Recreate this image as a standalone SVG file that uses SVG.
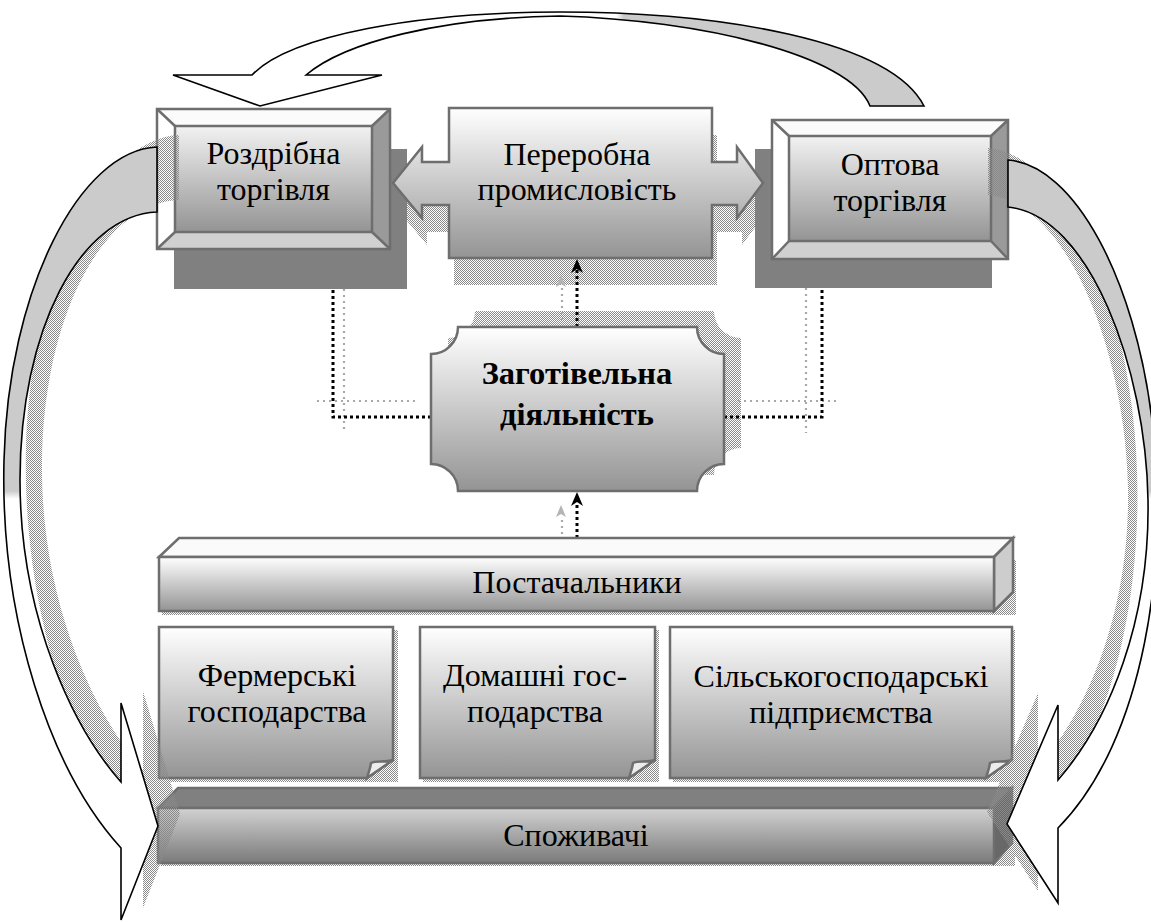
<svg xmlns="http://www.w3.org/2000/svg" width="1151" height="922" viewBox="0 0 1151 922">
  <defs>
    <style>
      text { font-family: "Liberation Serif", "DejaVu Serif", "Noto Serif", serif; }
      .lbl { font-size: 32px; fill: #000; text-anchor: middle; }
      .bold { font-weight: bold; font-size: 32.5px; }
      .edge { stroke: #6e6e6e; stroke-width: 2.5; stroke-linejoin: miter; }
      .band { stroke: #000; stroke-width: 1.6; stroke-linejoin: miter; }
      .hatch { fill: url(#hatch); stroke: none; }
      .solid-shadow { fill: #808080; }
      .dot { fill: none; stroke: #000; stroke-width: 3; stroke-dasharray: 3 3; }
      .dotg { fill: none; stroke: #a8a8a8; stroke-width: 2.2; stroke-dasharray: 2 4; }
    </style>
    <pattern id="hatch" width="2" height="2" patternUnits="userSpaceOnUse">
      <rect width="1" height="1" fill="#8a8a8a"/>
      <rect x="1" y="1" width="1" height="1" fill="#8a8a8a"/>
    </pattern>
    <linearGradient id="gNode" x1="0" y1="0" x2="0" y2="1">
      <stop offset="0" stop-color="#ffffff"/>
      <stop offset="1" stop-color="#949494"/>
    </linearGradient>
    <linearGradient id="gInner" x1="0" y1="0" x2="0" y2="1">
      <stop offset="0" stop-color="#f2f2f2"/>
      <stop offset="1" stop-color="#949494"/>
    </linearGradient>
    <linearGradient id="gDark" x1="0" y1="0" x2="0" y2="1">
      <stop offset="0" stop-color="#d2d2d2"/>
      <stop offset="1" stop-color="#7a7a7a"/>
    </linearGradient>
    <linearGradient id="gTop" gradientUnits="userSpaceOnUse" x1="173" y1="0" x2="924" y2="0">
      <stop offset="0" stop-color="#ffffff"/>
      <stop offset="0.59" stop-color="#ffffff"/>
      <stop offset="0.6" stop-color="#cbcbcb"/>
      <stop offset="1" stop-color="#cbcbcb"/>
    </linearGradient>
    <linearGradient id="gSide" gradientUnits="userSpaceOnUse" x1="0" y1="140" x2="0" y2="920">
      <stop offset="0" stop-color="#cbcbcb"/>
      <stop offset="0.45" stop-color="#cbcbcb"/>
      <stop offset="0.46" stop-color="#ffffff"/>
      <stop offset="1" stop-color="#ffffff"/>
    </linearGradient>
    <path id="leftBand" d="M157,147 C80,150 8,290 4,460 C0,620 50,770 121,848 L121,920 L158,826 L121,703 L121,782 C75,730 20,620 20,480 C20,330 80,215 157,212 Z"/>
    <path id="rightBand" d="M1008,160 C1075,165 1135,280 1152,420 C1170,560 1145,740 1058,828 L1058,903 L1007,824 L1058,705 L1058,780 C1110,720 1150,620 1148,500 C1146,370 1090,215 1008,207 Z"/>
  </defs>

  <rect width="1151" height="922" fill="#ffffff"/>

  <!-- shadows behind the upper nodes -->
  <g id="shadows">
    <path class="hatch" transform="translate(5,27)" d="M449,108 L712,108 L712,162 L737,162 L737,147 L763,183 L737,218 L737,205 L712,205 L712,258 L449,258 L449,205 L422,205 L422,218 L393,183 L422,147 L422,162 L449,162 Z"/>
    <path class="hatch" transform="translate(17,-16)" d="M458,327 L697,327 A27,27 0 0 0 724,354 L724,464 A27,27 0 0 0 697,491 L458,491 A27,27 0 0 0 431,464 L431,354 A27,27 0 0 0 458,327 Z"/>
    <rect class="solid-shadow" x="174" y="149" width="233" height="140"/>
    <rect class="solid-shadow" x="755" y="149" width="237" height="139"/>
    <rect class="hatch" x="162" y="560" width="854" height="55"/>
    <rect class="hatch" x="162" y="630" width="236" height="152"/>
    <rect class="hatch" x="423" y="630" width="236" height="152"/>
    <rect class="hatch" x="673" y="630" width="342" height="152"/>
    <rect class="hatch" x="161" y="811" width="854" height="55"/>
  </g>

  <!-- connectors -->
  <g id="connectors">
    <path class="dotg" d="M344,289 V433 M317,401 H415"/>
    <path class="dotg" d="M806,288 V433 M738,401 H836"/>
    <path class="dotg" d="M562,320 V286"/>
    <polygon points="561,275 566,287 561,284 556,287" fill="#b4b4b4"/>
    <path class="dotg" d="M562,540 V516"/>
    <polygon points="561,505 566,517 561,514 556,517" fill="#b4b4b4"/>
    <path class="dot" d="M431,417 H333 V289"/>
    <path class="dot" d="M724,417 H822 V288"/>
    <path class="dot" d="M577,327 V269"/>
    <polygon points="577,259 583,273 577,269 571,273" fill="#000"/>
    <path class="dot" d="M577,538 V502"/>
    <polygon points="577,492 583,506 577,502 571,506" fill="#000"/>
  </g>

  <!-- Роздрібна торгівля -->
  <g id="retail">
    <rect x="175" y="126" width="197" height="106" fill="url(#gInner)"/>
    <polygon points="157,109 390,109 372,126 175,126" fill="#fbfbfb"/>
    <polygon points="157,109 175,126 175,232 157,249" fill="#ffffff"/>
    <polygon points="390,109 390,249 372,232 372,126" fill="#9a9a9a"/>
    <polygon points="157,249 175,232 372,232 390,249" fill="#d0d0d0"/>
    <g fill="none" class="edge">
      <rect x="157" y="109" width="233" height="140"/>
      <rect x="175" y="126" width="197" height="106"/>
      <path d="M157,109 L175,126 M390,109 L372,126 M157,249 L175,232 M390,249 L372,232"/>
    </g>
    <text class="lbl" x="273.5" y="164">Роздрібна</text>
    <text class="lbl" x="273.5" y="200">торгівля</text>
  </g>

  <!-- Оптова торгівля -->
  <g id="wholesale">
    <rect x="789" y="136" width="202" height="105" fill="url(#gInner)"/>
    <polygon points="772,120 1008,120 991,136 789,136" fill="#fbfbfb"/>
    <polygon points="772,120 789,136 789,241 772,259" fill="#ffffff"/>
    <polygon points="1008,120 1008,259 991,241 991,136" fill="#9a9a9a"/>
    <polygon points="772,259 789,241 991,241 1008,259" fill="#d0d0d0"/>
    <g fill="none" class="edge">
      <rect x="772" y="120" width="236" height="139"/>
      <rect x="789" y="136" width="202" height="105"/>
      <path d="M772,120 L789,136 M1008,120 L991,136 M772,259 L789,241 M1008,259 L991,241"/>
    </g>
    <text class="lbl" x="890" y="175">Оптова</text>
    <text class="lbl" x="890" y="211">торгівля</text>
  </g>

  <!-- Переробна промисловість -->
  <g id="processing">
    <path class="edge" fill="url(#gNode)" d="M449,108 L712,108 L712,162 L737,162 L737,147 L763,183 L737,218 L737,205 L712,205 L712,258 L449,258 L449,205 L422,205 L422,218 L393,183 L422,147 L422,162 L449,162 Z"/>
    <text class="lbl" x="577" y="165">Переробна</text>
    <text class="lbl" x="577" y="200">промисловість</text>
  </g>

  <!-- Заготівельна діяльність -->
  <g id="procurement">
    <path class="edge" fill="url(#gNode)" d="M458,327 L697,327 A27,27 0 0 0 724,354 L724,464 A27,27 0 0 0 697,491 L458,491 A27,27 0 0 0 431,464 L431,354 A27,27 0 0 0 458,327 Z"/>
    <text class="lbl bold" x="577" y="384">Заготівельна</text>
    <text class="lbl bold" x="577" y="425">діяльність</text>
  </g>

  <!-- Постачальники -->
  <g id="suppliers">
    <polygon class="edge" points="159,557 179,538 1013,538 994,557" fill="#fafafa"/>
    <polygon class="edge" points="994,557 1013,538 1013,592 994,611" fill="#cdcdcd"/>
    <rect class="edge" x="159" y="557" width="835" height="54" fill="url(#gNode)"/>
    <text class="lbl" x="577" y="593">Постачальники</text>
  </g>

  <!-- Фермерські господарства -->
  <g id="farms">
    <path class="edge" fill="url(#gNode)" d="M159,627 L393,627 L393,760 L367,778 L159,778 Z"/>
    <path class="edge" fill="#ececec" stroke-width="1.5" d="M393,760 C385,763 376,760 371,763 C370,770 368,774 367,778 Z"/>
    <text class="lbl" x="277" y="686">Фермерські</text>
    <text class="lbl" x="277" y="722">господарства</text>
  </g>

  <!-- Домашні господарства -->
  <g id="households">
    <path class="edge" fill="url(#gNode)" d="M420,627 L655,627 L655,760 L629,778 L420,778 Z"/>
    <path class="edge" fill="#ececec" stroke-width="1.5" d="M655,760 C647,763 638,760 633,763 C632,770 630,774 629,778 Z"/>
    <text class="lbl" x="535" y="686">Домашні гос-</text>
    <text class="lbl" x="535" y="722">подарства</text>
  </g>

  <!-- Сільськогосподарські підприємства -->
  <g id="agri">
    <path class="edge" fill="url(#gNode)" d="M670,627 L1012,627 L1012,760 L986,778 L670,778 Z"/>
    <path class="edge" fill="#ececec" stroke-width="1.5" d="M1012,760 C1004,763 995,760 990,763 C989,770 987,774 986,778 Z"/>
    <text class="lbl" x="841" y="687">Сільськогосподарські</text>
    <text class="lbl" x="841" y="723">підприємства</text>
  </g>

  <!-- Споживачі -->
  <g id="consumers">
    <polygon class="edge" points="158,808 178,788 1012,788 994,808" fill="#808080"/>
    <polygon class="edge" points="994,808 1012,788 1012,843 994,863" fill="#686868"/>
    <rect class="edge" x="158" y="808" width="836" height="55" fill="url(#gDark)"/>
    <text class="lbl" x="576" y="846">Споживачі</text>
  </g>

  <!-- flow arrows around the scheme -->
  <g id="flows">
    <use href="#leftBand" class="hatch" transform="translate(22,-12)"/>
    <use href="#rightBand" class="hatch" transform="translate(-20,-12)"/>
    <use href="#leftBand" class="band" fill="url(#gSide)"/>
    <use href="#rightBand" class="band" fill="url(#gSide)"/>
    <path class="band" fill="url(#gTop)" d="M173,75 L252,75 C290,35 420,12 560,12 C720,12 890,40 924,106 L870,106 C850,55 700,20 560,16 C440,18 345,42 306,75 L382,75 L260,106 Z"/>
  </g>
</svg>
